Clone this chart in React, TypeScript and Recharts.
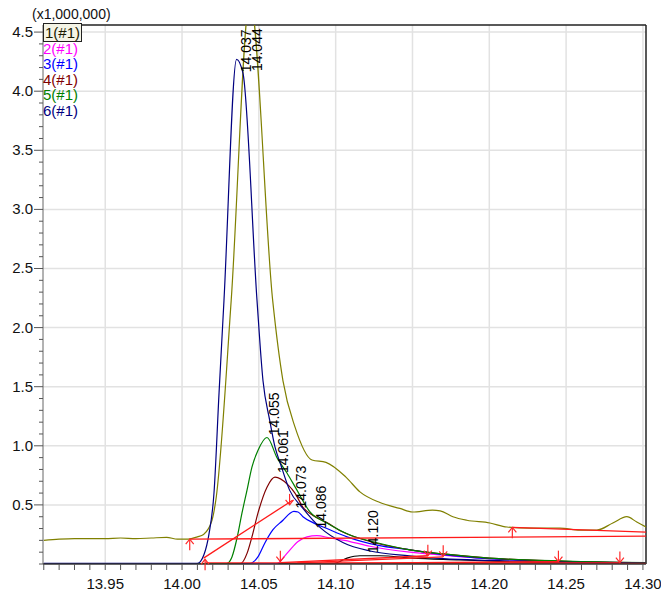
import React from 'react'
import { ComposedChart, Line, XAxis, YAxis, ReferenceLine, ReferenceDot } from 'recharts'

// retention time (min), intensity (x1,000,000)
const ticTrace = [
  [13.910, 0.20], [13.920, 0.21], [13.930, 0.215], [13.940, 0.215], [13.950, 0.215],
  [13.960, 0.22], [13.970, 0.215], [13.980, 0.22], [13.990, 0.225], [13.997, 0.21],
  [14.004, 0.21], [14.010, 0.23], [14.014, 0.25], [14.0195, 0.37], [14.022, 0.54],
  [14.032, 2.23], [14.0442, 4.78], [14.059, 2.23], [14.0657, 1.55], [14.0735, 1.16],
  [14.0846, 0.88], [14.0937, 0.86], [14.1067, 0.735], [14.1158, 0.61], [14.1288, 0.52],
  [14.1418, 0.47], [14.150, 0.44], [14.163, 0.456], [14.168, 0.45], [14.1763, 0.40],
  [14.1854, 0.37], [14.2004, 0.347], [14.2115, 0.313], [14.2264, 0.304], [14.246, 0.304],
  [14.259, 0.287], [14.270, 0.287], [14.2804, 0.347], [14.2895, 0.40], [14.296, 0.355],
  [14.3025, 0.31],
]
const trace1 = [
  [13.910, 0.003], [14.086, 0.003], [14.099, 0.005], [14.1074, 0.05], [14.1158, 0.07],
  [14.1288, 0.07], [14.150, 0.05], [14.1809, 0.035], [14.210, 0.02], [14.250, 0.01], [14.302, 0.005],
]
const trace2 = [
  [13.910, 0.004], [14.0618, 0.004], [14.0657, 0.05], [14.0703, 0.12], [14.0755, 0.19],
  [14.0813, 0.23], [14.0878, 0.24], [14.0963, 0.22], [14.1093, 0.19], [14.1223, 0.15],
  [14.1483, 0.10], [14.170, 0.075], [14.200, 0.045], [14.250, 0.02], [14.302, 0.01],
]
const trace3 = [
  [13.910, 0.004], [14.044, 0.004], [14.0494, 0.06], [14.054, 0.18], [14.0592, 0.29],
  [14.0657, 0.37], [14.0703, 0.43], [14.0728, 0.445], [14.0755, 0.44], [14.0787, 0.40],
  [14.0852, 0.35], [14.0943, 0.30], [14.1074, 0.23], [14.1269, 0.16], [14.1483, 0.12],
  [14.170, 0.08], [14.200, 0.045], [14.250, 0.02], [14.302, 0.01],
]
const trace4 = [
  [13.910, 0.004], [14.038, 0.004], [14.0423, 0.09], [14.0455, 0.23], [14.0494, 0.43],
  [14.0553, 0.65], [14.0605, 0.735], [14.069, 0.67], [14.0735, 0.60], [14.0787, 0.48],
  [14.0852, 0.41], [14.0943, 0.35], [14.1047, 0.27], [14.1223, 0.19], [14.1483, 0.12],
  [14.170, 0.085], [14.200, 0.05], [14.250, 0.022], [14.302, 0.01],
]
const trace5 = [
  [13.910, 0.004], [14.029, 0.004], [14.0325, 0.06], [14.0358, 0.22], [14.039, 0.43],
  [14.0423, 0.625], [14.0455, 0.82], [14.0494, 0.96], [14.0553, 1.07], [14.0618, 0.90],
  [14.0683, 0.77], [14.0748, 0.625], [14.0833, 0.44], [14.0943, 0.347], [14.1093, 0.245],
  [14.1269, 0.18], [14.1483, 0.12], [14.170, 0.085], [14.200, 0.05], [14.250, 0.025], [14.302, 0.012],
]
const trace6 = [
  [13.910, 0.005], [14.010, 0.005], [14.0143, 0.08], [14.0175, 0.25], [14.0208, 0.6],
  [14.0241, 1.45], [14.0273, 2.23], [14.0355, 4.27], [14.0397, 4.15], [14.0488, 2.23],
  [14.0527, 1.55], [14.057, 1.22], [14.0605, 0.99], [14.064, 0.85], [14.070, 0.625],
  [14.0787, 0.47], [14.0898, 0.31], [14.105, 0.18], [14.1223, 0.11], [14.148, 0.07],
  [14.170, 0.045], [14.200, 0.03], [14.250, 0.015], [14.302, 0.008],
]

// integration baselines (start, end)
const baselines = [
  [[14.005, 0.21], [14.302, 0.235]],
  [[14.215, 0.31], [14.302, 0.27]],
  [[14.014, 0.05], [14.072, 0.54]],
  [[14.015, 0.01], [14.302, 0.005]],
  [[14.064, 0.012], [14.160, 0.07]],
  [[14.075, 0.01], [14.170, 0.06]],
  [[14.090, 0.005], [14.245, 0.02]],
  [[14.100, 0.004], [14.285, 0.01]],
]
const startMarks = [[14.005, 0.21], [14.015, 0.04], [14.215, 0.31]]
const endMarks = [[14.070, 0.50], [14.064, 0.02], [14.160, 0.07], [14.170, 0.065], [14.245, 0.02], [14.285, 0.012]]

const peakLabels = [
  [14.037, 4.16, '14.037'],
  [14.044, 4.17, '14.044'],
  [14.055, 1.09, '14.055'],
  [14.061, 0.77, '14.061'],
  [14.073, 0.47, '14.073'],
  [14.086, 0.30, '14.086'],
  [14.120, 0.093, '14.120'],
]

const legendLabels = ['1(#1)', '2(#1)', '3(#1)', '4(#1)', '5(#1)', '6(#1)']
const xMajorTicks = [13.95, 14.0, 14.05, 14.1, 14.15, 14.2, 14.25, 14.3]
const yMajorTicks = [0.5, 1.0, 1.5, 2.0, 2.5, 3.0, 3.5, 4.0, 4.5]
const xMinorTicks = Array.from({ length: 40 }, (_, i) => +(13.91 + i * 0.01).toFixed(2))
const yMinorTicks = Array.from({ length: 46 }, (_, i) => +(i * 0.1).toFixed(1))

const X_DOMAIN = [13.9095, 14.302]
const Y_DOMAIN = [0, 4.56]
const FONT = '"Liberation Sans", Arial, sans-serif'

const traces = [
  { key: 'tic', color: '#808000', points: ticTrace },
  { key: 's1', color: '#000000', points: trace1 },
  { key: 's2', color: '#ff00ff', points: trace2 },
  { key: 's3', color: '#0000ff', points: trace3 },
  { key: 's4', color: '#800000', points: trace4 },
  { key: 's5', color: '#008000', points: trace5 },
  { key: 's6', color: '#000080', points: trace6 },
]
const legendColors = ['#1a1a00', '#ff00ff', '#0000ff', '#800000', '#008000', '#000080']

const toData = (pts: number[][]) => pts.map(([x, y]) => ({ x, y }))
const isMajor = (list: number[], v: number) => list.some((m) => Math.abs(m - v) < 1e-6)

function YTick({ x, y, payload }: any) {
  const major = isMajor(yMajorTicks, payload.value)
  return (
    <g>
      <line x1={x - (major ? 9 : 4)} x2={x} y1={y} y2={y} stroke="#555" />
      {major && (
        <text x={x - 10} y={y} dy={5} textAnchor="end" fontSize={15} fontFamily={FONT} fill="#111">
          {payload.value.toFixed(1)}
        </text>
      )}
    </g>
  )
}

function XTick({ x, y, payload }: any) {
  const major = isMajor(xMajorTicks, payload.value)
  return (
    <g>
      <line x1={x} x2={x} y1={y} y2={y + 6} stroke="#555" />
      {major && (
        <text x={x} y={y + 25} textAnchor="middle" fontSize={15} fontFamily={FONT} fill="#111">
          {payload.value.toFixed(2)}
        </text>
      )}
    </g>
  )
}

const arrowUp = ({ cx, cy }: any) => (
  <g stroke="#ff2a2a" strokeWidth={1.2} fill="none">
    <line x1={cx} y1={cy} x2={cx} y2={cy + 11} />
    <polyline points={`${cx - 4},${cy + 5} ${cx},${cy} ${cx + 4},${cy + 5}`} />
  </g>
)
const arrowDown = ({ cx, cy }: any) => (
  <g stroke="#ff2a2a" strokeWidth={1.2} fill="none">
    <line x1={cx} y1={cy} x2={cx} y2={cy - 11} />
    <polyline points={`${cx - 4},${cy - 5} ${cx},${cy} ${cx + 4},${cy - 5}`} />
  </g>
)
const peakText = (text: string) => ({ cx, cy }: any) => (
  <text
    x={cx + 12}
    y={cy}
    transform={`rotate(-90 ${cx + 12} ${cy})`}
    fontSize={14}
    fontFamily={FONT}
    fill="#000"
  >
    {text}
  </text>
)

export default function App() {
  return (
    <div style={{ position: 'absolute', left: 0, top: 0, width: 661, height: 591, background: '#fff', fontFamily: FONT }}>
      <ComposedChart width={661} height={591} margin={{ top: 25, right: 15, bottom: 0, left: 0 }}>
        <XAxis
          type="number"
          dataKey="x"
          domain={X_DOMAIN}
          allowDataOverflow
          ticks={xMinorTicks}
          interval={0}
          tickLine={false}
          tickSize={0}
          tickMargin={0}
          tick={<XTick />}
          height={27}
          axisLine={{ stroke: '#333', strokeWidth: 1.5 }}
        />
        <YAxis
          type="number"
          dataKey="y"
          domain={Y_DOMAIN}
          allowDataOverflow
          ticks={yMinorTicks}
          interval={0}
          tickLine={false}
          tickSize={0}
          tickMargin={0}
          tick={<YTick />}
          width={43}
          axisLine={{ stroke: '#666' }}
        />
        {xMajorTicks.map((v) => (
          <ReferenceLine key={'gx' + v} x={v} stroke="#e2e2e2" strokeWidth={1.5} />
        ))}
        {yMajorTicks.map((v) => (
          <ReferenceLine key={'gy' + v} y={v} stroke="#e2e2e2" strokeWidth={1.5} />
        ))}
        <ReferenceLine y={Y_DOMAIN[1]} stroke="#222" strokeWidth={1.5} />
        <ReferenceLine x={X_DOMAIN[1]} stroke="#222" strokeWidth={1.5} />

        {traces.map((t) => (
          <Line
            key={t.key}
            data={toData(t.points)}
            dataKey="y"
            type="monotone"
            stroke={t.color}
            strokeWidth={1.2}
            dot={false}
            activeDot={false}
            legendType="none"
            isAnimationActive={false}
          />
        ))}
        {baselines.map((b, i) => (
          <Line
            key={'b' + i}
            data={toData(b)}
            dataKey="y"
            type="linear"
            stroke="#ff1a1a"
            strokeWidth={1.3}
            dot={false}
            activeDot={false}
            legendType="none"
            isAnimationActive={false}
          />
        ))}
        {startMarks.map(([x, y], i) => (
          <ReferenceDot key={'su' + i} x={x} y={y} r={0} shape={arrowUp} />
        ))}
        {endMarks.map(([x, y], i) => (
          <ReferenceDot key={'ed' + i} x={x} y={y} r={0} shape={arrowDown} />
        ))}
        {peakLabels.map(([x, y, text]) => (
          <ReferenceDot key={'pl' + text} x={x as number} y={y as number} r={0} shape={peakText(text as string)} />
        ))}
      </ComposedChart>
      <div style={{ position: 'absolute', left: 32, top: 6, fontSize: 14, lineHeight: '16px', color: '#111' }}>
        (x1,000,000)
      </div>
      <div style={{ position: 'absolute', left: 43, top: 25, fontSize: 15, lineHeight: '15.5px' }}>
        {legendLabels.map((l, i) => (
          <div key={l} style={{ color: legendColors[i] }}>
            <span style={i === 0 ? { border: '1px solid #222', padding: '0 1px', background: '#f4f4e6' } : {}}>{l}</span>
          </div>
        ))}
      </div>
    </div>
  )
}
